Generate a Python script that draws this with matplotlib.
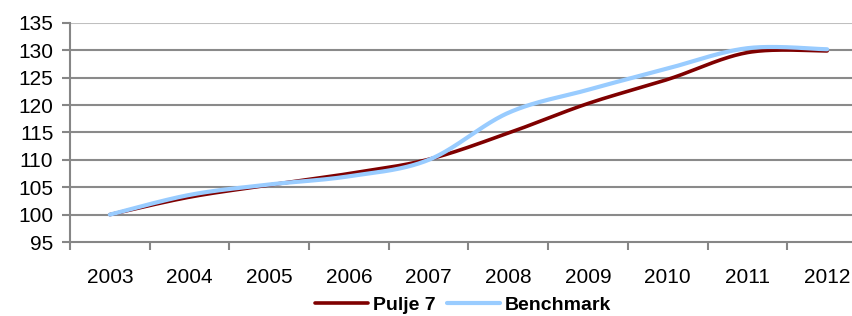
import numpy as np
import matplotlib
matplotlib.use("Agg")
import matplotlib.pyplot as plt

years = ["2003", "2004", "2005", "2006", "2007", "2008", "2009", "2010", "2011", "2012"]
pulje7 = [100.0, 103.2, 105.4, 107.5, 110.1, 114.9, 120.3, 124.7, 129.6, 129.9]
benchmark = [100.0, 103.6, 105.5, 107.0, 110.0, 118.6, 122.8, 126.7, 130.4, 130.2]
yticks = [95, 100, 105, 110, 115, 120, 125, 130, 135]

plt.rcParams['font.family'] = ['Liberation Sans', 'DejaVu Sans']


def smooth(x, y, n=40):
    # Catmull-Rom style Bezier smoothing (like Excel smoothed lines)
    x = np.asarray(x, float)
    y = np.asarray(y, float)
    px, py = [], []
    for i in range(len(x) - 1):
        x0, y0 = (x[i - 1], y[i - 1]) if i > 0 else (x[i], y[i])
        x3, y3 = (x[i + 2], y[i + 2]) if i + 2 < len(x) else (x[i + 1], y[i + 1])
        x1, y1 = x[i], y[i]
        x2, y2 = x[i + 1], y[i + 1]
        c1x = x1 + (x2 - x0) / 6
        c1y = y1 + (y2 - y0) / 6
        c2x = x2 - (x3 - x1) / 6
        c2y = y2 - (y3 - y1) / 6
        t = np.linspace(0, 1, n)
        bx = (1 - t) ** 3 * x1 + 3 * (1 - t) ** 2 * t * c1x + 3 * (1 - t) * t ** 2 * c2x + t ** 3 * x2
        by = (1 - t) ** 3 * y1 + 3 * (1 - t) ** 2 * t * c1y + 3 * (1 - t) * t ** 2 * c2y + t ** 3 * y2
        px.extend(bx)
        py.extend(by)
    return np.array(px), np.array(py)


W, H = 853, 316
fig = plt.figure(figsize=(W / 100, H / 100), dpi=100)
left, right, top, bottom = 70, 867, 23, 242
ax = fig.add_axes([left / W, 1 - bottom / H, (right - left) / W, (bottom - top) / H])

xs = np.arange(len(years))
sx, sy = smooth(xs, pulje7)
ax.plot(sx, sy, color='#7f0000', lw=2.6, solid_capstyle='round', label='Pulje 7', zorder=3)
bx, by = smooth(xs, benchmark)
ax.plot(bx, by, color='#99ccff', lw=3.0, solid_capstyle='round', label='Benchmark', zorder=4)

ax.set_xlim(-0.5, len(years) - 0.5)
ax.set_ylim(95, 135)
ax.set_yticks(yticks)
ax.set_yticklabels([str(v) for v in yticks], fontsize=15)
ax.set_xticks(xs)
ax.set_xticklabels(years, fontsize=15)
ax.set_xticks(np.arange(-0.5, len(years)), minor=True)
ax.tick_params(axis='x', which='major', length=0, pad=19)
ax.tick_params(axis='x', which='minor', length=6, width=1.5, color='#868686', direction='out')
ax.tick_params(axis='y', length=6, width=1.5, color='#868686', pad=6)

for v in yticks[1:]:
    ax.axhline(v, color='#bfbfbf' if v == 135 else '#8a8a8a', lw=1.5, zorder=1)

for s in ['top', 'right']:
    ax.spines[s].set_visible(False)
for s in ['left', 'bottom']:
    ax.spines[s].set_color('#868686')
    ax.spines[s].set_linewidth(1.5)

leg = fig.legend(loc='center', bbox_to_anchor=(463 / W, 1 - 305 / H), ncol=2, frameon=False,
                 prop={'weight': 'bold', 'size': 14}, handlelength=2.7, handletextpad=0.25,
                 columnspacing=0.6, borderpad=0)

fig.savefig('out.png', dpi=100)
